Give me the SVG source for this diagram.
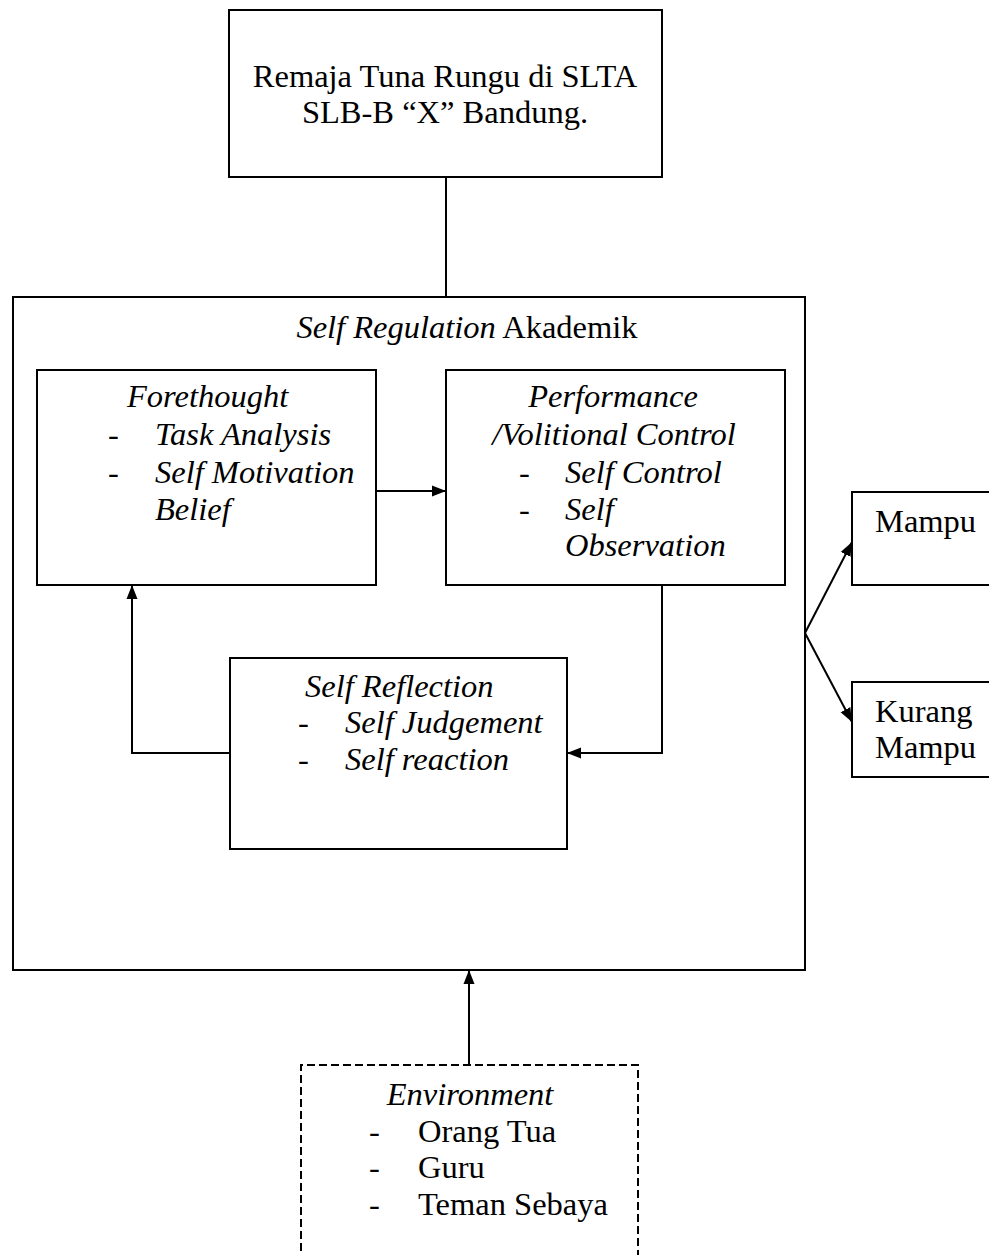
<svg xmlns="http://www.w3.org/2000/svg" width="989" height="1255" viewBox="0 0 989 1255">
<style>
.box{fill:#fff;stroke:#000;stroke-width:2}
.dash{fill:#fff;stroke:#000;stroke-width:2;stroke-dasharray:8,4}
text{font-family:"Liberation Serif","Times New Roman",serif;font-size:32.5px;fill:#000}
.i{font-style:italic}
.m{text-anchor:middle}
.c{fill:none;stroke:#000;stroke-width:2}
</style>
<defs>
<marker id="ah" markerUnits="userSpaceOnUse" markerWidth="15" markerHeight="12" refX="14" refY="6" orient="auto" viewBox="0 0 15 12">
<path d="M0,0.5 L14,6 L0,11.5 z" fill="#000"/>
</marker>
</defs>
<rect width="989" height="1255" fill="#fff"/>
<g id="top">
<rect class="box" x="229" y="10" width="433" height="167"/>
<text class="m" x="445" y="87">Remaja Tuna Rungu di SLTA</text>
<text class="m" x="445" y="123">SLB-B “X” Bandung.</text>
</g>
<g id="selfreg">
<rect class="box" x="13" y="297" width="792" height="673"/>
<text class="m" x="467" y="338"><tspan class="i">Self Regulation</tspan> Akademik</text>
</g>
<g id="forethought">
<rect class="box" x="37" y="370" width="339" height="215"/>
<text class="i" x="127" y="407">Forethought</text>
<text x="108" y="445">-</text><text class="i" x="155" y="445">Task Analysis</text>
<text x="108" y="483">-</text><text class="i" x="155" y="483">Self Motivation</text>
<text class="i" x="155" y="520">Belief</text>
</g>
<g id="performance">
<rect class="box" x="446" y="370" width="339" height="215"/>
<text class="i m" x="613" y="407">Performance</text>
<text class="i m" x="614" y="445">/Volitional Control</text>
<text x="519" y="483">-</text><text class="i" x="565" y="483">Self Control</text>
<text x="519" y="520">-</text><text class="i" x="565" y="520">Self</text>
<text class="i" x="565" y="556">Observation</text>
</g>
<g id="reflection">
<rect class="box" x="230" y="658" width="337" height="191"/>
<text class="i" x="305" y="697">Self Reflection</text>
<text x="298" y="733">-</text><text class="i" x="345" y="733">Self Judgement</text>
<text x="298" y="770">-</text><text class="i" x="345" y="770">Self reaction</text>
</g>
<g id="mampu">
<rect class="box" x="852" y="492" width="160" height="93"/>
<text x="875" y="532">Mampu</text>
</g>
<g id="kurang">
<rect class="box" x="852" y="682" width="160" height="95"/>
<text x="875" y="722">Kurang</text>
<text x="875" y="758">Mampu</text>
</g>
<g id="environment">
<path class="dash" d="M301,1275 V1065 H638 V1275"/>
<text class="i m" x="470" y="1105">Environment</text>
<text x="369" y="1142">-</text><text x="418" y="1142">Orang Tua</text>
<text x="369" y="1178">-</text><text x="418" y="1178">Guru</text>
<text x="369" y="1215">-</text><text x="418" y="1215">Teman Sebaya</text>
</g>
<g id="connectors">
<path class="c" d="M446,177 V297"/>
<path class="c" d="M376,491 H446" marker-end="url(#ah)"/>
<path class="c" d="M662,585 V753 H567" marker-end="url(#ah)"/>
<path class="c" d="M230,753 H132 V585" marker-end="url(#ah)"/>
<path class="c" d="M805,633 L852,542" marker-end="url(#ah)"/>
<path class="c" d="M805,633 L852,722" marker-end="url(#ah)"/>
<path class="c" d="M469,1065 V970" marker-end="url(#ah)"/>
</g>
</svg>
